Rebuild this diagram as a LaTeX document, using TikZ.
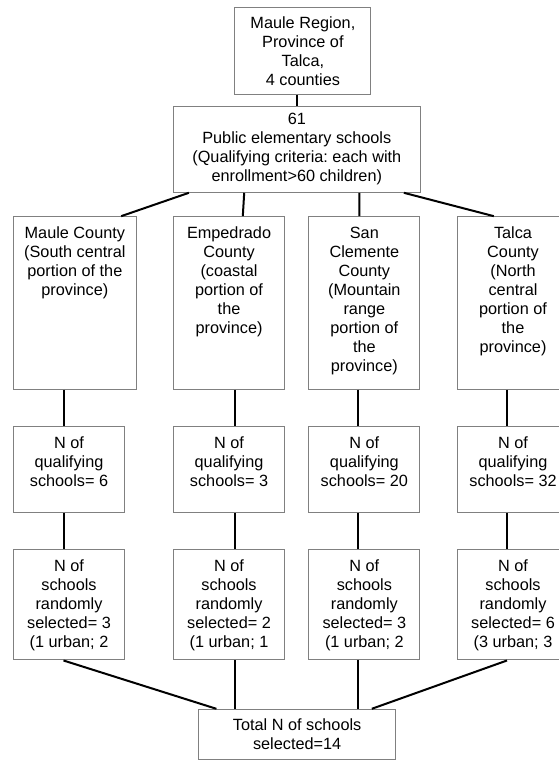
\documentclass[tikz,border=0pt]{standalone}
\usepackage{fontspec}
\setmainfont{Liberation Sans}
\usetikzlibrary{calc}
\frenchspacing

\begin{document}
\begin{tikzpicture}[
    x=0.75pt, y=-0.75pt,
    box/.style={draw=black!50, line width=0.75pt, align=center, inner sep=0pt,
        font=\fontsize{12.2pt}{14.25pt}\selectfont, minimum width=83.4pt},
    countybox/.style={box, minimum height=129.5pt},
    qualbox/.style={box, minimum height=64.2pt},
    selbox/.style={box, minimum height=83pt},
    txt/.style={anchor=north, align=center, inner sep=7.7pt,
        font=\fontsize{12.2pt}{14.25pt}\selectfont},
    link/.style={line width=1.5pt},
]
\useasboundingbox (0,0) rectangle (559,760);

% ---------- Region and schools ----------
\node[box, minimum width=101.9pt, minimum height=65pt] (region) at (302.9,50.7)
    {Maule Region,\\Province of\\Talca,\\4 counties};
\node[box, minimum width=184.8pt, minimum height=64.2pt] (schools) at (296.8,149.5)
    {61\\Public elementary schools\\(Qualifying criteria: each with\\enrollment>60 children)};

% ---------- Counties ----------
\node[countybox, minimum width=92.5pt,
      label={[txt]north:Maule County\\(South central\\portion of the\\province)}] (maule) at (74.85,303) {};
\node[countybox,
      label={[txt]north:Empedrado\\County\\(coastal\\portion of\\the\\province)}] (emped) at (229.05,303) {};
\node[countybox,
      label={[txt]north:San\\Clemente\\County\\(Mountain\\range\\portion of\\the\\province)}] (sancl) at (364.35,303) {};
\node[countybox,
      label={[txt]north:Talca\\County\\(North\\central\\portion of\\the\\province)}] (talca) at (513,303) {};

% ---------- Qualifying schools ----------
\node[qualbox, label={[txt]north:N of\\qualifying\\schools= 6}] (qmaule) at (69,469.5) {};
\node[qualbox, label={[txt]north:N of\\qualifying\\schools= 3}] (qemped) at (229.05,469.5) {};
\node[qualbox, label={[txt]north:N of\\qualifying\\schools= 20}] (qsancl) at (364.35,469.5) {};
\node[qualbox, label={[txt]north:N of\\qualifying\\schools= 32}] (qtalca) at (513,469.5) {};

% ---------- Randomly selected ----------
\node[selbox, label={[txt]north:N of\\schools\\randomly\\selected= 3\\(1 urban; 2}] (smaule) at (69,604.65) {};
\node[selbox, label={[txt]north:N of\\schools\\randomly\\selected= 2\\(1 urban; 1}] (semped) at (229.05,604.65) {};
\node[selbox, label={[txt]north:N of\\schools\\randomly\\selected= 3\\(1 urban; 2}] (ssancl) at (364.35,604.65) {};
\node[selbox, label={[txt]north:N of\\schools\\randomly\\selected= 6\\(3 urban; 3}] (stalca) at (513,604.65) {};

\node[box, minimum width=147.8pt, minimum height=37.5pt] (total) at (297.15,734.3)
    {Total N of schools\\selected=14};

% ---------- Links: top ----------
\draw[link] (region.south -| schools.north) -- (schools.north);
\draw[link] ($(schools.south)+(-107.9,0)$) -- ($(maule.north)+(46.35,0)$);
\draw[link] ($(schools.south)+(-52.6,0)$) -- ($(emped.north)+(13.75,0)$);
\draw[link] ($(schools.south)+(62.6,0)$) -- ($(sancl.north)+(-4.95,0)$);
\draw[link] ($(schools.south)+(107.1,0)$) -- ($(talca.north)+(-19.2,0)$);

% ---------- Links: columns ----------
\foreach \c/\lx in {maule/63.5, emped/235.3, sancl/358.3, talca/507} {
    \coordinate (col-\c) at (\lx,0);
    \draw[link] (\c.south -| col-\c) -- (q\c.north -| col-\c);
    \draw[link] (q\c.south -| col-\c) -- (s\c.north -| col-\c);
}

% ---------- Links: total ----------
\draw[link] (smaule.south -| col-maule) -- ($(total.north)+(-80.75,0)$);
\draw[link] (semped.south -| col-emped) -- (total.north -| col-emped);
\draw[link] (ssancl.south -| col-sancl) -- (total.north -| col-sancl);
\draw[link] (stalca.south -| col-talca) -- ($(total.north)+(74.65,0)$);

\end{tikzpicture}
\end{document}
